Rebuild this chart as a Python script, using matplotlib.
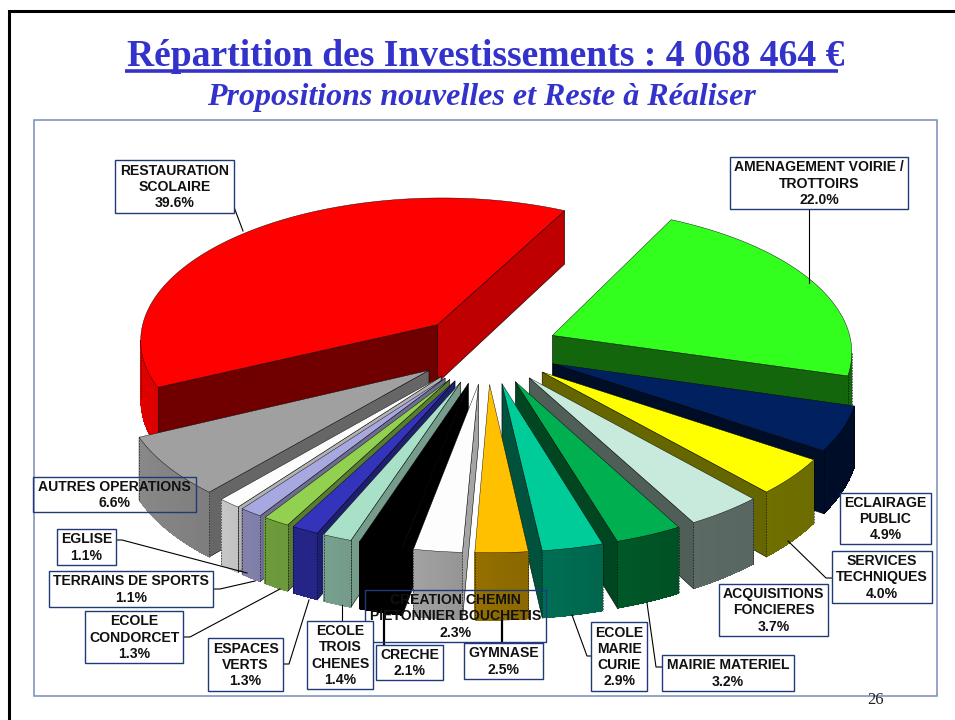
import numpy as np
import matplotlib
matplotlib.use('agg')
import matplotlib.pyplot as plt
from matplotlib.colors import to_rgb
from matplotlib.patches import Polygon, Rectangle

# Data, clockwise from the green slice
names = ['AMENAGEMENT VOIRIE /\nTROTTOIRS', 'ECLAIRAGE\nPUBLIC', 'SERVICES\nTECHNIQUES',
         'ACQUISITIONS\nFONCIERES', 'MAIRIE MATERIEL', 'ECOLE\nMARIE\nCURIE', 'GYMNASE',
         'CREATION CHEMIN\nPIETONNIER BOUCHETIS', 'CRECHE', 'ECOLE\nTROIS\nCHENES',
         'ESPACES\nVERTS', 'ECOLE\nCONDORCET', 'TERRAINS DE SPORTS', 'EGLISE',
         'AUTRES OPERATIONS', 'RESTAURATION\nSCOLAIRE']
shares = [22.0, 4.9, 4.0, 3.7, 3.2, 2.9, 2.5, 2.3, 2.1, 1.4, 1.3, 1.3, 1.1, 1.1, 6.6, 39.6]
colors = ['#33ff1f', '#002060', '#ffff00', '#c8eadc', '#00b050', '#00cc99', '#ffc000', '#fdfdfd',
          '#000000', '#a8e0c8', '#3333bb', '#92d050', '#a8a8e0', '#fdfdfd', '#a0a0a0', '#ff0000']
start_shade = [.4, .4, .4, .4, .4, .4, .4, .65, .6, .7, .6, .6, .65, .7, .64, .44]
end_shade = [.4, .4, .4, .4, .4, .4, .4, .82, .6, .7, .6, .6, .65, .7, .64, .75]

# label boxes in pixels: left, top, right, bottom
boxes = [(730, 157, 908, 209), (840, 493, 931, 544), (832, 551, 932, 603), (719, 584, 828, 636),
         (662, 655, 794, 691), (591, 622, 647, 691), (464, 643, 543, 679), (365, 590, 546, 642),
         (376, 645, 443, 680), (307, 621, 373, 689), (208, 638, 283, 691), (85, 611, 183, 663),
         (49, 571, 213, 607), (57, 529, 116, 565), (33, 477, 196, 512), (115, 160, 234, 213)]
leaders = [[(809, 209), (809, 283)], [], [(832, 578), (826, 578), (788, 541)], [],
           [(662, 667), (656, 667), (647, 603)], [(591, 656), (587, 656), (572, 615)],
           [(502, 643), (502, 618)], [], [(384, 645), (384, 610)], [(342, 621), (342, 605)],
           [(283, 664), (289, 664), (309, 600)], [(183, 637), (190, 637), (280, 589)],
           [(213, 589), (220, 589), (255, 581)], [(117, 540), (122, 540), (247, 573)], [],
           [(234, 207), (243, 231)]]

NAVY = '#1f3a78'
BLUE = '#3333cc'
START_ANGLE = 27.0
CX, CY = 487, 349
RADIUS, SQUASH, PERSP = 300, 0.48, 0.10
EXPLODE, HEIGHT = 0.24, 59


def project(gx, gy, drop=0.0):
    # ground coords in pie radii, drop in pixels below the top face
    s = 1 / (1 + PERSP * np.asarray(gy))
    return CX + RADIUS * np.asarray(gx) * s, CY - RADIUS * SQUASH * np.asarray(gy) * s + drop * s


def outer_shade(theta):
    return np.interp(theta, [100, 150, 178, 200, 225, 250, 300], [.4, .45, .56, .7, .8, .87, .9])


def add_poly(ax, xs, ys, color, z, edge=None, lw=0.0, **kw):
    ax.add_patch(Polygon(np.column_stack([xs, ys]), closed=True, facecolor=color,
                         edgecolor=edge if edge else color, linewidth=lw if edge else 0.4, zorder=z, **kw))


def draw_slice(ax, i, a0, a1, z):
    rgb = np.array(to_rgb(colors[i]))
    mid = np.radians((a0 + a1) / 2)
    ox, oy = EXPLODE * np.sin(mid), EXPLODE * np.cos(mid)
    th = np.linspace(a0, a1, max(int(a1 - a0) * 2, 6))
    gx = ox + np.sin(np.radians(th))
    gy = oy + np.cos(np.radians(th))
    px, py = project(gx, gy)
    pxb, pyb = project(gx, gy, HEIGHT)
    ax0, ay0 = project(ox, oy)
    ax0b, ay0b = project(ox, oy, HEIGHT)

    # radial walls, only the ones turned to the viewer
    if px[0] < ax0:
        add_poly(ax, [ax0, px[0], pxb[0], ax0b], [ay0, py[0], pyb[0], ay0b],
                 rgb * start_shade[i], z, 'black', 0.4)
    if ax0 < px[-1]:
        add_poly(ax, [ax0, px[-1], pxb[-1], ax0b], [ay0, py[-1], pyb[-1], ay0b],
                 rgb * end_shade[i], z, 'black', 0.4)

    # rim: one flat base, then strips so the shade can follow the angle
    vis = np.where(np.diff(px) < 0)[0]
    if len(vis):
        idx = np.arange(vis[0], vis[-1] + 2)
        add_poly(ax, np.r_[px[idx], pxb[idx][::-1]], np.r_[py[idx], pyb[idx][::-1]],
                 rgb * outer_shade(th[idx].mean()), z, 'black', 0.4)
        for k in vis:
            shade = outer_shade((th[k] + th[k + 1]) / 2)
            ax.add_patch(Polygon([(px[k], py[k]), (px[k + 1], py[k + 1]), (pxb[k + 1], pyb[k + 1]), (pxb[k], pyb[k])],
                                 closed=True, facecolor=rgb * shade, edgecolor='none', antialiased=False, zorder=z))
        for k in (idx[0], idx[-1]):
            ax.plot([px[k], pxb[k]], [py[k], pyb[k]], color='black', lw=0.4, ls=(0, (3, 2)), zorder=z)

    add_poly(ax, np.r_[ax0, px], np.r_[ay0, py], colors[i], z, 'black', 0.3)


fig = plt.figure(figsize=(9.55, 7.2), dpi=100)
ax = fig.add_axes([0, 0, 1, 1])
ax.set_xlim(0, 955)
ax.set_ylim(720, 0)
ax.axis('off')

# slide border and chart frame
ax.plot([8.5, 8.5, 955], [720, 10.5, 10.5], color='black', lw=2.2, solid_joinstyle='miter', zorder=1)
ax.add_patch(Rectangle((33.5, 120), 903.5, 575.5, fill=False, edgecolor='#7a8db5', lw=1.1, zorder=1))

ax.text(485.5, 66, 'Répartition des Investissements : 4 068 464 €', family='Liberation Serif',
        weight='bold', size=27.07, color=BLUE, ha='center', va='baseline')
ax.plot([125, 838], [71, 71], color=BLUE, lw=2.6, solid_capstyle='butt')
ax.text(481, 105, 'Propositions nouvelles et Reste à Réaliser', family='Liberation Serif',
        weight='bold', style='italic', size=23.04, color=BLUE, ha='center', va='baseline')
ax.text(876, 704, '26', family='Liberation Serif', size=12, color='#222222', ha='center', va='baseline')

# angles from the shares, back slices painted first
edges = START_ANGLE + np.cumsum([0] + shares) * 3.6
mids = np.radians((edges[:-1] + edges[1:]) / 2)
order = np.argsort(-np.cos(mids))
for z, i in enumerate(order):
    draw_slice(ax, i, edges[i], edges[i + 1], 10 + z)

for i, name in enumerate(names):
    x0, y0, x1, y1 = boxes[i]
    see_through = name.startswith(('AUTRES', 'CREATION'))
    ax.add_patch(Rectangle((x0, y0), x1 - x0, y1 - y0, facecolor='none' if see_through else 'white',
                           edgecolor=NAVY, lw=1.0, zorder=50))
    ax.text((x0 + x1) / 2, (y0 + y1) / 2 + 0.5, f'{name}\n{shares[i]:.1f}%', family='Liberation Sans',
            weight='bold', size=10.1, color='#111111', ha='center', va='center', linespacing=1.2, zorder=51)
    if leaders[i]:
        pts = np.array(leaders[i])
        thick = 1.6 if name in ('CRECHE', 'GYMNASE') else 0.8
        ax.plot(pts[:, 0], pts[:, 1], color='black', lw=thick, zorder=49)

fig.savefig('out.png', dpi=100)
